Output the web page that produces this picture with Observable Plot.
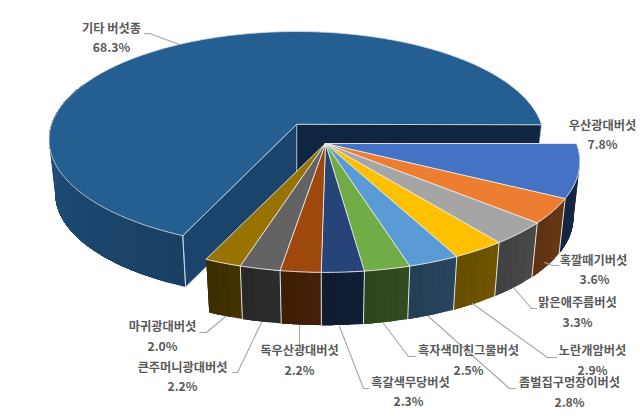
<!DOCTYPE html>
<html><head><meta charset="utf-8">
<style>html,body{margin:0;padding:0;background:#fff}svg{display:block}</style>
<script src="https://cdn.jsdelivr.net/npm/d3@7"></script>
<script src="https://cdn.jsdelivr.net/npm/@observablehq/plot@0.6"></script>
</head><body><div id="chart"></div>
<script>
// Data
const names = ["우산광대버섯","혹깔때기버섯","맑은애주름버섯","노란개암버섯","좀벌집구멍장이버섯","흑자색미친그물버섯","흑갈색무당버섯","독우산광대버섯","큰주머니광대버섯","마귀광대버섯","기타 버섯종"];
const shares = [7.8,3.6,3.3,2.9,2.8,2.5,2.3,2.2,2.2,2.0,68.3];
const colors = ["#4472C4","#ED7D31","#A5A5A5","#FFC000","#5B9BD5","#70AD47","#264478","#9E480E","#636363","#997300","#255E91"];

// Label layout: name centre, percent centre, leader polyline
const labelX = [602,593,577,592,569,468,410,299,182,162,111];
const labelY = [126,261,303,351,383,351,383,351,368,327,29];
const pctX   = [602,594,577,592,569,468,408,299,182,162,111];
const pctY   = [145,280,323,371,403,371,402,371,387,347,48];
const leaders = [
  null,
  [[558,265],[552,265],[544,262]],
  [[536,308],[531,308],[513,287]],
  [[556,357],[547,357],[472,303]],
  [[515,388],[509,388],[428,316]],
  [[415,356],[408,356],[383,323]],
  [[368,388],[363,388],[339,326]],
  [[299,345],[299,325]],
  [[232,372],[237,372],[261,322]],
  [[199,332],[206,332],[225,316]],
  [[144,33],[149,33],[179,44]]
];

// 3D pie projection parameters
const BOTTOM = 0.975;
const mainPie = {x:296,y:124,R:245,T:106,K:0.14,D:54}, groupPie = {x:325,y:143,R:251,T:108,K:0.162,D:56};
const START = 90; // clockwise degrees from 12 o'clock

function project(p, deg, h) {
  const a = deg*Math.PI/180, u = Math.sin(a), v = -Math.cos(a);
  const s = 1/(1-p.K*v);
  const b = h ? BOTTOM : 1;
  return {x: p.x+p.R*u*s*b, y: p.y+p.T*v*s*b+(h?p.D:0)};
}
function arc(p,a0,a1,h){
  const n = Math.max(2,Math.ceil(Math.abs(a1-a0))), out=[];
  for(let i=0;i<=n;i++) out.push(project(p,a0+(a1-a0)*i/n,h));
  return out;
}
function shade(c,f){const r=d3.rgb(c);return d3.rgb(r.r*f,r.g*f,r.b*f).formatHex();}

const marks = [];
const poly = (pts,fill,stroke,sw=0.9)=>marks.push(Plot.line(pts,{x:"x",y:"y",curve:"linear-closed",fill,stroke,strokeWidth:sw,strokeLinejoin:"round"}));
const path = (pts,stroke,sw=0.9)=>marks.push(Plot.line(pts,{x:"x",y:"y",stroke,strokeWidth:sw}));

// Angles
const total = d3.sum(shares);
let acc = START;
const slices = shares.map((s,i)=>{const a0=acc;acc+=s/total*360;return {a0,a1:acc,i};});
const big = slices[10], group = slices.slice(0,10);

// Wall: overlapping bands, each reaching to the wall's end, so no seams show
function wall(p,a0,a1,base,f0,f1){
  const n=Math.max(3,Math.ceil((a1-a0)/3));
  for(let k=0;k<n;k++){
    const b0=a0+(a1-a0)*k/n;
    const c=shade(base,f0+(f1-f0)*k/(n-1));
    poly([...arc(p,b0,a1,false),...arc(p,a1,b0,true)],c,"none",0);
  }
}

// Main slice: walls, cut faces, top
wall(mainPie,big.a0,big.a0+90,colors[10],0.68,0.90);
const apexT = {x:mainPie.x,y:mainPie.y}, apexB = {x:mainPie.x,y:mainPie.y+mainPie.D};
const eR0 = project(mainPie,big.a1,false), eR1 = project(mainPie,big.a1,true);
const eL0 = project(mainPie,big.a0,false), eL1 = project(mainPie,big.a0,true);
poly([apexT,eR0,eR1,apexB],"#0e2640","#c9d3dc",0.7);
poly([apexT,eL0,eL1,apexB],"#1a4469","#c9d3dc",0.7);
path([eL0,eL1],"#c9d3dc",1);
poly([apexT,...arc(mainPie,big.a0,big.a1,false)],colors[10],"#d5dde5",0.8);

// Exploded group: walls, separators, tops
group.forEach(s=>wall(groupPie,s.a0,s.a1,colors[s.i],s.i===0?0.38:0.44,s.i===0?0.32:0.40));
group.slice(0,-1).forEach(s=>path([project(groupPie,s.a1,false),project(groupPie,s.a1,true)],"#e4e4e4",1));
group.forEach(s=>poly([{x:groupPie.x,y:groupPie.y},...arc(groupPie,s.a0,s.a1,false)],colors[s.i],"#ececec",0.9));

// Leaders and labels
leaders.forEach(l=>{ if(l) marks.push(Plot.line(l,{x:d=>d[0],y:d=>d[1],stroke:"#a6a6a6",strokeWidth:1.1})); });
const labels = names.map((n,i)=>({n,p:shares[i].toFixed(1)+"%",x:labelX[i],y:labelY[i],px:pctX[i],py:pctY[i]}));
const font = {fontFamily:"'Noto Sans CJK KR',sans-serif",fontSize:12.2,fontWeight:700,fill:"#595959",textAnchor:"middle",lineAnchor:"middle"};
marks.push(Plot.text(labels,{x:"x",y:"y",text:"n",...font}));
marks.push(Plot.text(labels,{x:"px",y:"py",text:"p",...font}));

const chart = Plot.plot({
  width:640,height:416,margin:0,
  x:{domain:[0,640],range:[0,640],axis:null},
  y:{domain:[0,416],range:[0,416],axis:null},
  style:{background:"#fff"},
  marks
});
document.getElementById("chart").append(chart);
</script></body></html>
